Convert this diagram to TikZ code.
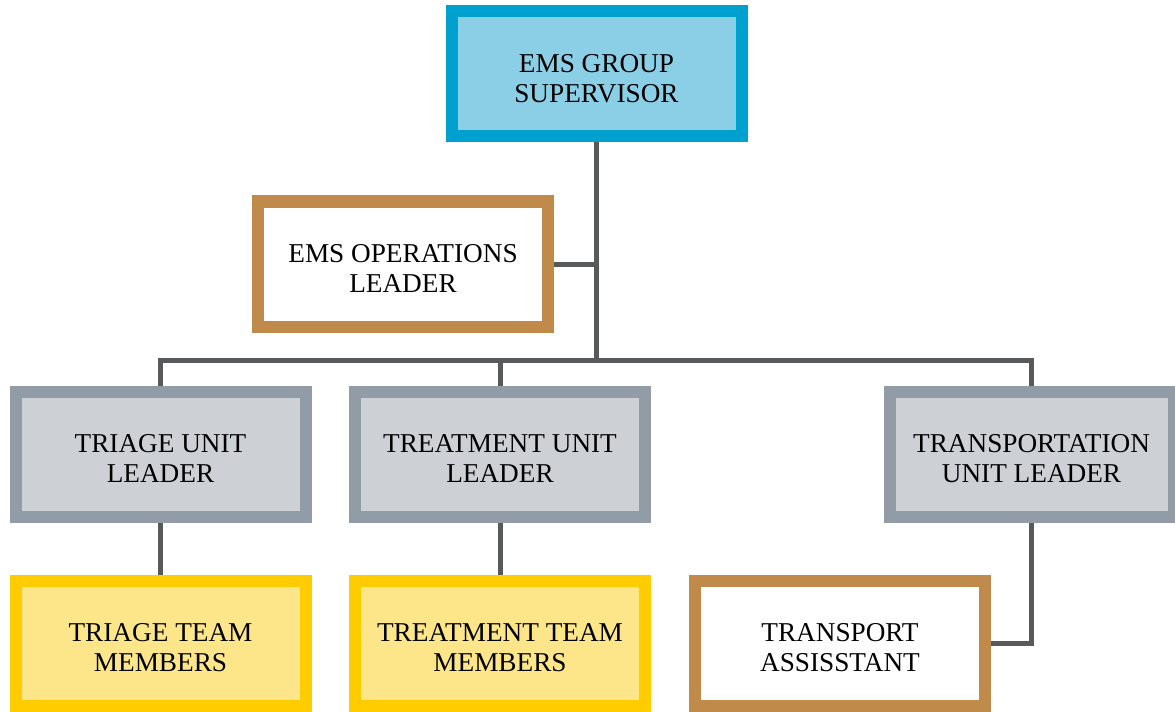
\documentclass[tikz,border=0pt]{standalone}
\usepackage{fontspec}
\setmainfont{Liberation Serif}
\usetikzlibrary{backgrounds}
\definecolor{supline}{HTML}{00A0CF}
\definecolor{supfill}{HTML}{8ACFE6}
\definecolor{opsline}{HTML}{BF8A4A}
\definecolor{unitline}{HTML}{929CA6}
\definecolor{unitfill}{HTML}{CDD1D6}
\definecolor{teamline}{HTML}{FFCC00}
\definecolor{teamfill}{HTML}{FDE58A}
\definecolor{linkgray}{HTML}{58595B}
\newcommand\boxtext[1]{\raisebox{-7.9pt}[0pt][0pt]{\begin{tabular}{@{}c@{}}#1\end{tabular}}}
\tikzset{
	box/.style={rectangle,line width=0.24cm,minimum width=5.8cm,minimum height=2.5cm,inner sep=0pt,font=\fontsize{15.5}{17.2}\selectfont},
	supbox/.style={box,draw=supline,fill=supfill},
	opsbox/.style={box,draw=opsline,fill=white},
	unitbox/.style={box,draw=unitline,fill=unitfill},
	teambox/.style={box,draw=teamline,fill=teamfill},
	link/.style={draw=linkgray,line width=0.1cm}
}
\begin{document}
\begin{tikzpicture}
			      \useasboundingbox (0,0) rectangle (23.5,14.22);
			      \node (sup) at (11.93,12.74)[supbox]{\boxtext{EMS GROUP\\SUPERVISOR}};
			      \node (ops) at (8.06,8.94)[opsbox]{\boxtext{EMS OPERATIONS\\LEADER}};
			      \node (trg) at (3.21,5.14)[unitbox]{\boxtext{TRIAGE UNIT\\LEADER}};
			      \node (trt) at (10.0,5.14)[unitbox]{\boxtext{TREATMENT UNIT\\LEADER}};
			      \node (trp) at (20.63,5.14)[unitbox,minimum width=5.68cm]{\boxtext{TRANSPORTATION\\UNIT LEADER}};
			      \node (trgteam) at (3.21,1.36)[teambox]{\boxtext{TRIAGE TEAM\\MEMBERS}};
			      \node (trtteam) at (10.0,1.36)[teambox]{\boxtext{TREATMENT TEAM\\MEMBERS}};
			      \node (asst) at (16.8,1.36)[opsbox]{\boxtext{TRANSPORT\\ASSISSTANT}};
			      \coordinate (bus) at (11.93,7.02);
			      \begin{scope}[on background layer]
			      \draw[link] (sup.south)--(bus);
			      \draw[link] (ops.east)--(ops.east -| sup.south);
			      \draw[link] (trg.north)|-(bus)-|(trp.north);
			      \draw[link] (trt.north)--(trt.north |- bus);
			      \draw[link] (trg.south)--(trgteam.north);
			      \draw[link] (trt.south)--(trtteam.north);
			      \draw[link] (trp.south)|-(asst.east);
			      \end{scope}
		      \end{tikzpicture}
\end{document}
